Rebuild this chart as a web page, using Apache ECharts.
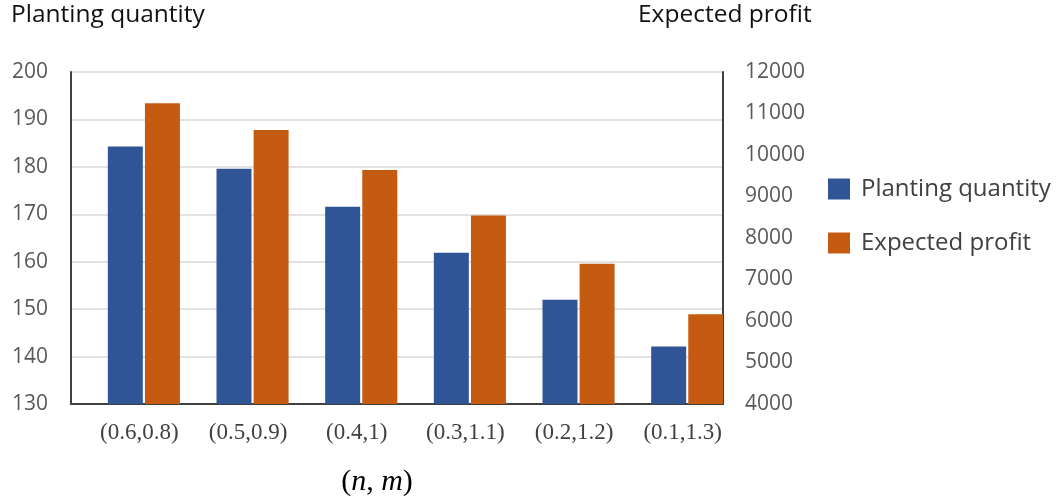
<!DOCTYPE html>
<html>
<head>
<meta charset="utf-8">
<script src="https://cdn.jsdelivr.net/npm/echarts@6/dist/echarts.min.js"></script>
<style>
  html, body { margin: 0; padding: 0; background: #fff; }
  #chart { width: 1061px; height: 500px; }
</style>
</head>
<body>
<div id="chart"></div>
<script>
// (n, m) parameter pairs along the horizontal axis
const categories = ['(0.6,0.8)', '(0.5,0.9)', '(0.4,1)', '(0.3,1.1)', '(0.2,1.2)', '(0.1,1.3)'];
// Planting quantity (left axis)
const plantingQuantity = [184.3, 179.6, 171.6, 161.9, 152.0, 142.1];
// Expected profit (right axis)
const expectedProfit = [11250, 10600, 9640, 8540, 7380, 6160];

const leftAxis = { min: 130, max: 200, interval: 10 };
const rightAxis = { min: 4000, max: 12000, interval: 1000 };

const BLUE = '#2F5597';
const ORANGE = '#C55A11';
const SANS = '"Open Sans", "Noto Sans", sans-serif';
const SERIF = '"Liberation Serif", "DejaVu Serif", serif';

const chart = echarts.init(document.getElementById('chart'), null, { renderer: 'canvas' });

const axisLine = { show: true, lineStyle: { color: '#404040', width: 2 } };

chart.setOption({
  animation: false,
  backgroundColor: '#ffffff',
  grid: { left: 71, right: 338, top: 72, bottom: 96, containLabel: false, outerBoundsMode: 'none' },
  legend: {
    orient: 'vertical',
    left: 828,
    top: 177,
    padding: 0,
    itemWidth: 22,
    itemHeight: 21,
    itemGap: 30,
    icon: 'rect',
    data: ['Planting quantity', 'Expected profit'],
    textStyle: { fontFamily: SANS, fontSize: 24, color: '#404040', padding: [0, 0, 0, 6] }
  },
  xAxis: {
    type: 'category',
    data: categories,
    axisLine: axisLine,
    axisTick: { show: false },
    axisLabel: {
      fontFamily: SERIF, fontSize: 23, color: '#404040', margin: 17,
      padding: [0, 0, 0, 28]
    },
    name: '({i|n}, {i|m})',
    nameLocation: 'middle',
    nameGap: 63,
    nameTextStyle: {
      fontFamily: SERIF, fontSize: 30, color: '#000',
      padding: [0, 40, 0, 0],
      rich: { i: { fontFamily: SERIF, fontSize: 30, fontStyle: 'italic', color: '#000' } }
    }
  },
  yAxis: [
    {
      type: 'value',
      position: 'left',
      min: leftAxis.min, max: leftAxis.max, interval: leftAxis.interval,
      axisLine: axisLine,
      axisTick: { show: false },
      axisLabel: { fontFamily: SANS, fontSize: 21, color: '#595959', margin: 23 },
      splitLine: { show: true, lineStyle: { color: '#d9d9d9', width: 1.5 } }
    },
    {
      type: 'value',
      position: 'right',
      min: rightAxis.min, max: rightAxis.max, interval: rightAxis.interval,
      axisLine: axisLine,
      axisTick: { show: false },
      axisLabel: {
        fontFamily: SANS, fontSize: 21, color: '#595959', margin: 22,
        formatter: v => String(v)
      },
      splitLine: { show: false }
    }
  ],
  series: [
    {
      // empty slot that keeps the bar pair at the right side of each band
      name: 'slot',
      type: 'bar',
      data: [],
      barWidth: 35,
      barGap: '6%',
      silent: true
    },
    {
      name: 'Planting quantity',
      type: 'bar',
      yAxisIndex: 0,
      data: plantingQuantity,
      barWidth: 35,
      barGap: '6%',
      itemStyle: { color: BLUE }
    },
    {
      name: 'Expected profit',
      type: 'bar',
      yAxisIndex: 1,
      data: expectedProfit,
      barWidth: 35,
      barGap: '6%',
      itemStyle: { color: ORANGE }
    }
  ],
  graphic: [
    {
      type: 'text', left: 11, top: 3,
      style: { text: 'Planting quantity', font: '24.5px "Open Sans", sans-serif', fill: '#111' }
    },
    {
      type: 'text', left: 638, top: 3,
      style: { text: 'Expected profit', font: '24.5px "Open Sans", sans-serif', fill: '#111' }
    }
  ]
});
</script>
</body>
</html>
